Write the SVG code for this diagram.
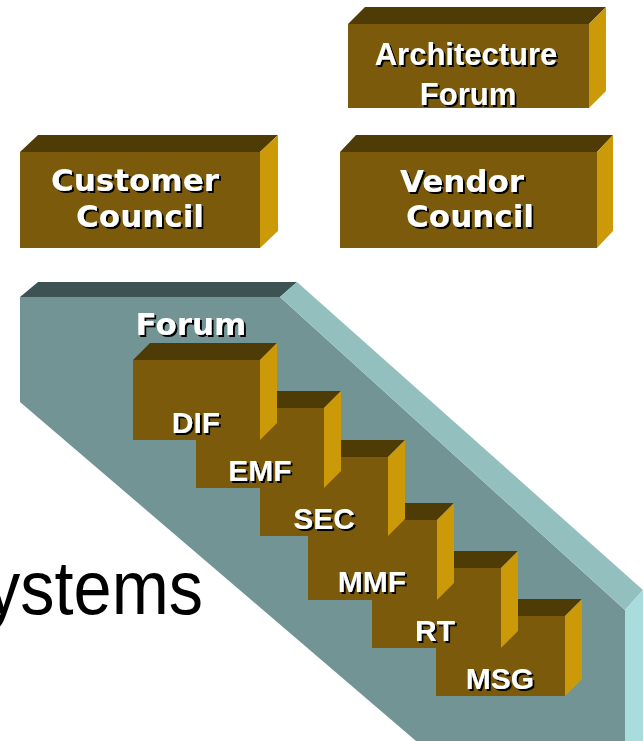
<svg xmlns="http://www.w3.org/2000/svg" width="644" height="741" viewBox="0 0 644 741">
<defs>
<filter id="sh" x="-10%" y="-10%" width="130%" height="140%">
<feDropShadow dx="2" dy="2" stdDeviation="0" flood-color="#000" flood-opacity="1"/>
</filter>
<style>
.fr{fill:#7b5b0b}
.tp{fill:#4f3b06}
.sd{fill:#cc9a08}
.ta{font-family:"Liberation Sans",Arial,sans-serif;font-weight:bold;fill:#fff;text-anchor:middle;filter:url(#sh)}
.tv{font-family:"DejaVu Sans",Verdana,sans-serif;font-weight:bold;fill:#fff;text-anchor:middle;filter:url(#sh)}
</style>
</defs>
<rect width="644" height="741" fill="#fff"/>
<text x="-14" y="614" font-family="Liberation Sans, Arial, sans-serif" font-size="76" textLength="217" lengthAdjust="spacingAndGlyphs" fill="#000">ystems</text>

<g id="forum">
<polygon points="20,297 280,297 625,610 625,741 416,741 20,402" fill="#739494"/>
<polygon points="38,282 297,282 280,297 20,297" fill="#3d5252"/>
<polygon points="297,282 643,590 625,610 280,297" fill="#94bfbf"/>
<polygon points="625,610 643,590 643,741 625,741" fill="#a9dcdc"/>
<text class="tv" x="191" y="335" font-size="31">Forum</text>
</g>

<g id="arch">
<polygon class="tp" points="348,24 365,7 606,7 589,24"/>
<rect class="fr" x="348" y="24" width="241" height="84"/>
<polygon class="sd" points="589,24 606,7 606,91 589,108"/>
<text class="ta" x="466" y="65" font-size="31">Architecture</text>
<text class="ta" x="468" y="105" font-size="31">Forum</text>
</g>

<g id="customer">
<polygon class="tp" points="20,152 38,135 278,135 260,152"/>
<rect class="fr" x="20" y="152" width="240" height="96"/>
<polygon class="sd" points="260,152 278,135 278,231 260,248"/>
<text class="tv" x="135" y="191" font-size="31">Customer</text>
<text class="tv" x="140" y="227" font-size="31">Council</text>
</g>

<g id="vendor">
<polygon class="tp" points="340,152 356,135 613,135 597,152"/>
<rect class="fr" x="340" y="152" width="257" height="96"/>
<polygon class="sd" points="597,152 613,135 613,231 597,248"/>
<text class="tv" x="462" y="192" font-size="31">Vendor</text>
<text class="tv" x="470" y="227" font-size="31">Council</text>
</g>

<g id="msg">
<polygon class="tp" points="436,616 453,599 582,599 565,616"/>
<rect class="fr" x="436" y="616" width="129" height="80"/>
<polygon class="sd" points="565,616 582,599 582,679 565,696"/>
<text class="ta" x="500" y="689" font-size="30">MSG</text>
</g>
<g id="rt">
<polygon class="tp" points="372,568 389,551 518,551 501,568"/>
<rect class="fr" x="372" y="568" width="129" height="80"/>
<polygon class="sd" points="501,568 518,551 518,631 501,648"/>
<text class="ta" x="435" y="641" font-size="30">RT</text>
</g>
<g id="mmf">
<polygon class="tp" points="308,520 325,503 454,503 437,520"/>
<rect class="fr" x="308" y="520" width="129" height="80"/>
<polygon class="sd" points="437,520 454,503 454,583 437,600"/>
<text class="ta" x="372" y="592" font-size="30">MMF</text>
</g>
<g id="sec">
<polygon class="tp" points="260,457 277,440 405,440 388,457"/>
<rect class="fr" x="260" y="457" width="128" height="79"/>
<polygon class="sd" points="388,457 405,440 405,519 388,536"/>
<text class="ta" x="324" y="529" font-size="30">SEC</text>
</g>
<g id="emf">
<polygon class="tp" points="196,408 213,391 341,391 324,408"/>
<rect class="fr" x="196" y="408" width="128" height="80"/>
<polygon class="sd" points="324,408 341,391 341,471 324,488"/>
<text class="ta" x="260" y="481" font-size="30">EMF</text>
</g>
<g id="dif">
<polygon class="tp" points="133,360 150,343 277,343 260,360"/>
<rect class="fr" x="133" y="360" width="127" height="80"/>
<polygon class="sd" points="260,360 277,343 277,423 260,440"/>
<text class="ta" x="196" y="433" font-size="30">DIF</text>
</g>
<g id="connectors"/>
</svg>
